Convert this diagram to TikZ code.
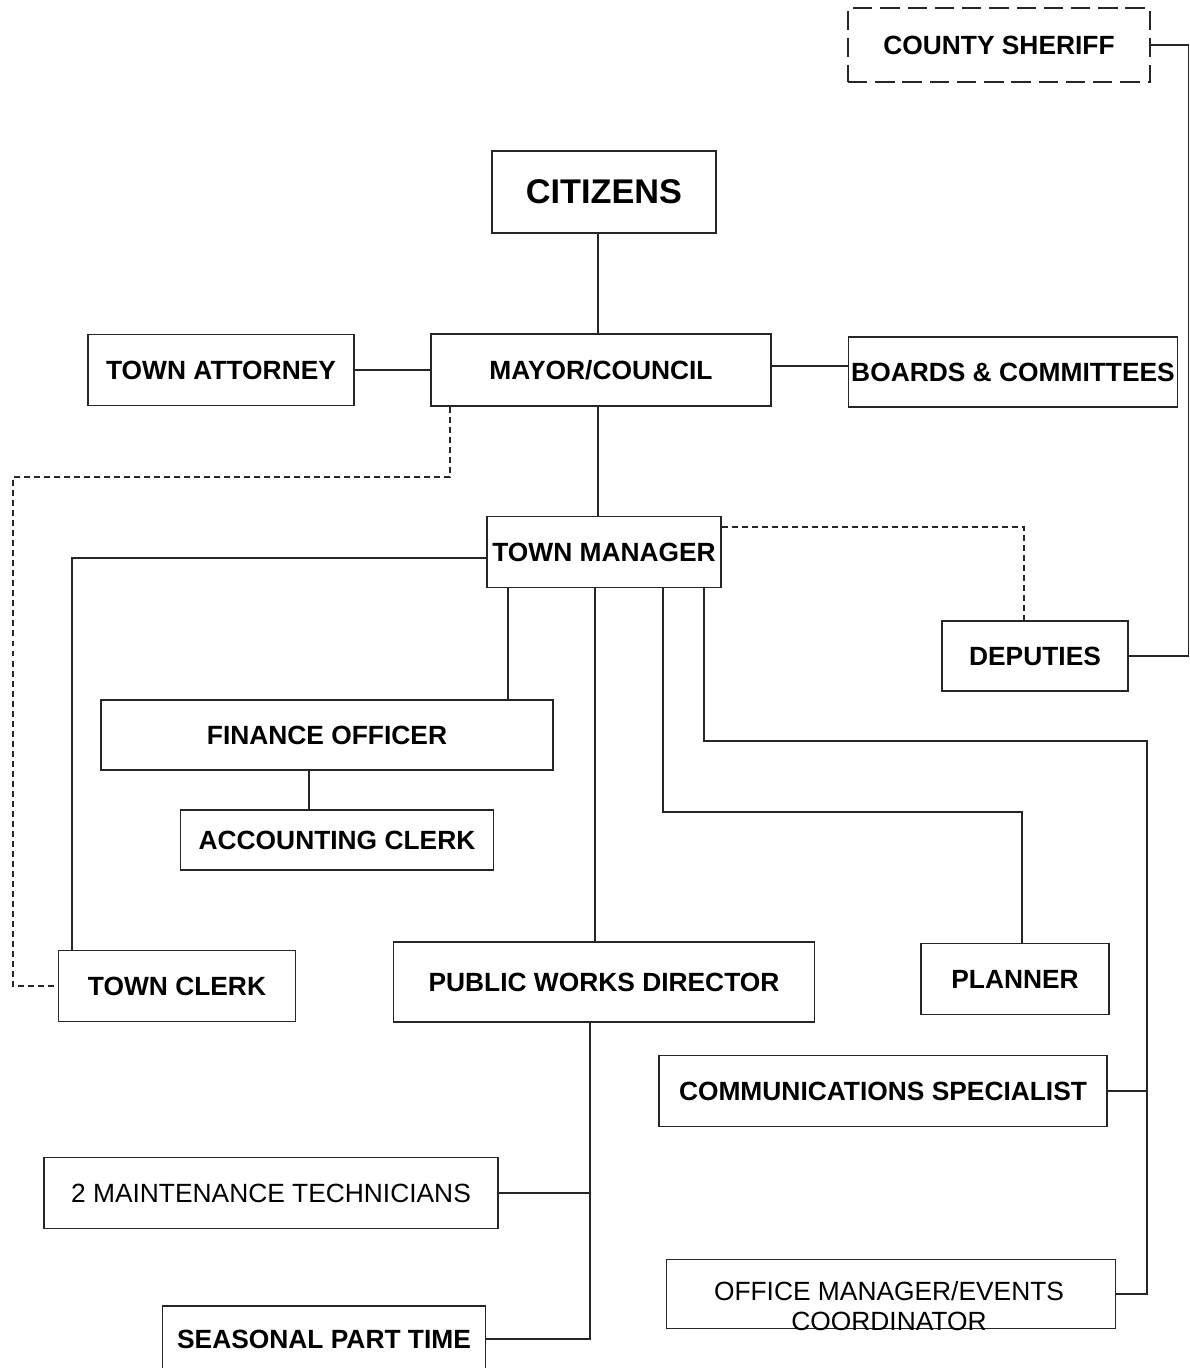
\documentclass[tikz,border=0pt]{standalone}
\usepackage{fontspec}
\setmainfont{Liberation Sans}
\begin{document}
\begin{tikzpicture}[x=0.02cm,y=-0.02cm,
  box/.style={draw=black!85,line width=0.6pt,inner sep=1pt,font=\fontsize{15}{17.5}\selectfont\bfseries},
  plainbox/.style={box,font=\fontsize{15}{17.5}\selectfont},
  sz/.style 2 args={minimum width=#1*0.02cm,minimum height=#2*0.02cm},
  link/.style={draw=black!85,line width=0.6pt},
  dotlink/.style={link,dash pattern=on 3.4pt off 2.3pt}]
\useasboundingbox (0,0) rectangle (1189,1368);
% boxes
\node[box,sz={302}{74},dash pattern=on 11pt off 4.5pt] (sheriff) at (999,45) {COUNTY SHERIFF};
\node[box,sz={224}{82},font=\fontsize{19.5}{22}\selectfont\bfseries] (cit) at (604,192) {CITIZENS};
\node[box,sz={266}{71}] (atty) at (221,370) {TOWN ATTORNEY};
\node[box,sz={340}{72}] (mayor) at (601,370) {MAYOR/COUNCIL};
\node[box,sz={329}{70}] (boards) at (1013,372) {BOARDS \& COMMITTEES};
\node[box,sz={234}{71}] (tm) at (604,552) {TOWN MANAGER};
\node[box,sz={186}{70}] (dep) at (1035,656) {DEPUTIES};
\node[box,sz={452}{70}] (fin) at (327,735) {FINANCE OFFICER};
\node[box,sz={313}{60}] (acc) at (337,840) {ACCOUNTING CLERK};
\node[box,sz={237}{71}] (clerk) at (177,986) {TOWN CLERK};
\node[box,sz={421}{80}] (pw) at (604,982) {PUBLIC WORKS DIRECTOR};
\node[box,sz={188}{71}] (plan) at (1015,979) {PLANNER};
\node[box,sz={448}{71}] (comm) at (883,1091) {COMMUNICATIONS SPECIALIST};
\node[plainbox,sz={454}{71}] (maint) at (271,1193) {2 MAINTENANCE TECHNICIANS};
\node[plainbox,sz={449}{69}] (om) at (891,1294) {};
\node[font=\fontsize{15}{17.5}\selectfont,align=center] (omtext) at (889,1306) {OFFICE MANAGER/EVENTS\\COORDINATOR};
\node[box,sz={323}{66}] (seas) at (324,1339) {SEASONAL PART TIME};
% bend points
\coordinate (cz) at (598,0);
\coordinate (bA) at (0,366);
\coordinate (dA) at (450,477);
\coordinate (dB) at (13,477);
\coordinate (dC) at (1024,527);
\coordinate (cA) at (72,558);
\coordinate (fA) at (508,0);
\coordinate (aA) at (309,0);
\coordinate (pA) at (595,0);
\coordinate (plA) at (663,812);
\coordinate (plB) at (1022,812);
\coordinate (cmA) at (704,741);
\coordinate (cmB) at (1147,741);
\coordinate (sA) at (590,0);
% connectors
\draw[link] (cit.south -| cz) -- (cz |- mayor.north);
\draw[link] (atty.east) -- (atty.east -| mayor.west);
\draw[link] (mayor.east |- bA) -- (boards.west |- bA);
\draw[link] (mayor.south -| cz) -- (cz |- tm.north);
\draw[dotlink] (mayor.south -| dA) -- (dA) -- (dB) |- (clerk.west);
\draw[link] (sheriff.east) -- ++(38,0) |- (dep.east);
\draw[dotlink] (tm.east |- dC) -- (dC) -- (dC |- dep.north);
\draw[link] (tm.west |- cA) -- (cA) -- (cA |- clerk.north);
\draw[link] (tm.south -| fA) -- (fA |- fin.north);
\draw[link] (fin.south -| aA) -- (aA |- acc.north);
\draw[link] (tm.south -| pA) -- (pA |- pw.north);
\draw[link] (tm.south -| plA) -- (plA) -- (plB) -- (plB |- plan.north);
\draw[link] (tm.south -| cmA) -- (cmA) -- (cmB) |- (om.east);
\draw[link] (comm.east) -- (comm.east -| cmB);
\draw[link] (pw.south -| sA) |- (seas.east);
\draw[link] (maint.east) -- (maint.east -| sA);
\end{tikzpicture}
\end{document}
